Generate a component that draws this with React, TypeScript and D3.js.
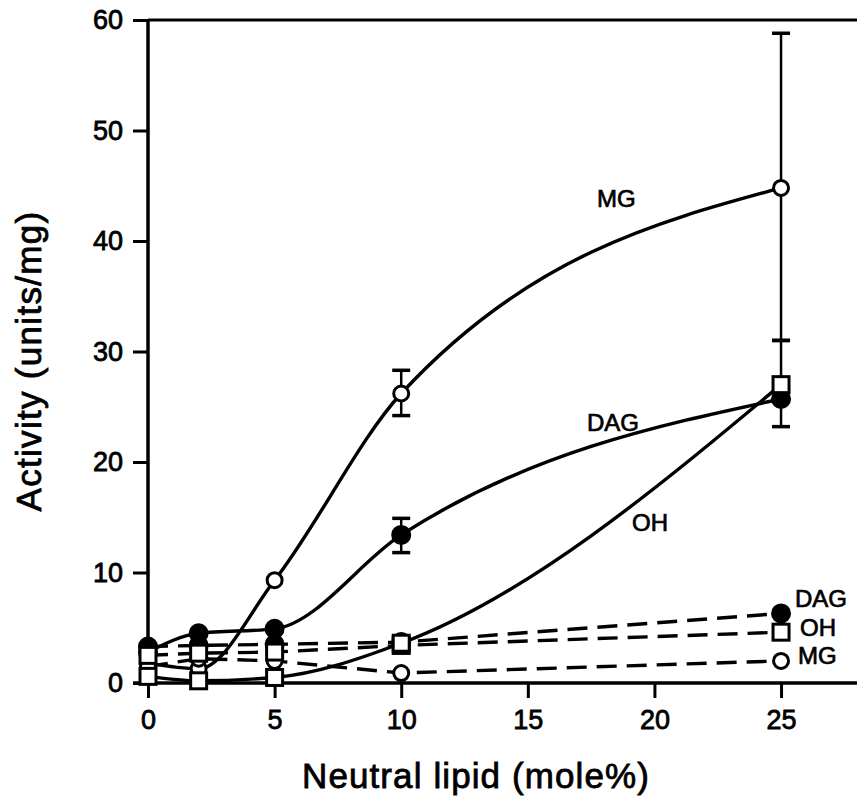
import React, { useEffect, useRef } from 'react'
import * as d3 from 'd3'

// mole% of neutral lipid
const lipid = [0, 2, 5, 10, 25]

// solid curves
const mgSolid = [1.8, 1.3, 9.3, 26.2, 44.8]
const dagSolid = [2.8, 4.5, 4.9, 13.4, 25.7]
const ohSolid = [0.6, 0.2, 0.5, 3.6, 27.0]

// dashed curves
const dagDashed = [3.3, 3.4, 3.5, 3.7, 6.3]
const ohDashed = [2.5, 2.7, 2.8, 3.4, 4.6]
const mgDashed = [1.5, 2.2, 2.0, 0.9, 2.0]

// error bars: [x, low, high]
const errorBars = [
  [10, 24.2, 28.3],
  [10, 11.8, 14.9],
  [25, 31.0, 58.8],
  [25, 23.2, 31.0],
]

const xTicks = [0, 5, 10, 15, 20, 25]
const yTicks = [0, 10, 20, 30, 40, 50, 60]

const W = 857, H = 799
const FONT = 'Liberation Sans, Arial, Helvetica, sans-serif'

export default function App() {
  const ref = useRef<SVGSVGElement>(null)

  useEffect(() => {
    const svg = d3.select(ref.current)
    svg.selectAll('*').remove()

    const x = d3.scaleLinear().domain([0, 28]).range([148, 857])
    const y = d3.scaleLinear().domain([0, 60]).range([683, 20])

    const g = svg.append('g')

    // frame
    g.append('line').attr('x1', x(0)).attr('x2', W).attr('y1', y(60)).attr('y2', y(60))
      .attr('stroke', '#000').attr('stroke-width', 3)

    // axes
    const xAxis = g.append('g').attr('transform', `translate(0, ${y(0)})`)
      .call(d3.axisBottom(x).tickValues(xTicks).tickSize(15).tickPadding(12).tickSizeOuter(0))
    const yAxis = g.append('g').attr('transform', `translate(${x(0)}, 0)`)
      .call(d3.axisLeft(y).tickValues(yTicks).tickSize(15).tickPadding(10).tickSizeOuter(0))

    ;[xAxis, yAxis].forEach(a => {
      a.select('.domain').attr('stroke-width', 3.5)
      a.selectAll('.tick line').attr('stroke-width', 3)
      a.selectAll('.tick text').attr('font-family', FONT).attr('font-size', 27)
        .attr('fill', '#000').attr('stroke', '#000').attr('stroke-width', 0.8)
    })
    xAxis.select('.domain').attr('d', `M${x(0) - 15},0H${W}`)
    yAxis.select('.domain').attr('d', `M0,${y(0)}V${y(60)}`)

    // axis titles
    g.append('text').attr('x', 476).attr('y', 788).attr('text-anchor', 'middle')
      .attr('font-family', FONT).attr('font-size', 35).attr('letter-spacing', 1.1)
      .attr('stroke', '#000').attr('stroke-width', 0.8)
      .text('Neutral lipid (mole%)')
    g.append('text').attr('transform', `translate(41, 361) rotate(-90)`).attr('text-anchor', 'middle')
      .attr('font-family', FONT).attr('font-size', 35).attr('letter-spacing', 1.3)
      .attr('stroke', '#000').attr('stroke-width', 0.8)
      .text('Activity (units/mg)')

    // error bars
    errorBars.forEach(([xv, lo, hi]) => {
      g.append('line').attr('x1', x(xv)).attr('x2', x(xv)).attr('y1', y(lo)).attr('y2', y(hi))
        .attr('stroke', '#000').attr('stroke-width', 2.5)
      ;[lo, hi].forEach(v => {
        g.append('line').attr('x1', x(xv) - 9).attr('x2', x(xv) + 9).attr('y1', y(v)).attr('y2', y(v))
          .attr('stroke', '#000').attr('stroke-width', 3.5)
      })
    })

    const solid = d3.line<number>().x((d, i) => x(lipid[i])).y(d => y(d)).curve(d3.curveMonotoneX)
    const dashed = d3.line<number>().x((d, i) => x(lipid[i])).y(d => y(d))

    const series = [
      { values: dagDashed, marker: 'filled', dash: '20,10' },
      { values: dagSolid, marker: 'filled', dash: null },
      { values: mgSolid, marker: 'open', dash: null },
      { values: mgDashed, marker: 'open', dash: '20,10' },
      { values: ohDashed, marker: 'square', dash: '20,10' },
      { values: ohSolid, marker: 'square', dash: null },
    ]

    series.forEach(s => {
      g.append('path').attr('d', (s.dash ? dashed : solid)(s.values))
        .attr('fill', 'none').attr('stroke', '#000').attr('stroke-width', 3.4)
        .attr('stroke-dasharray', s.dash)
    })

    series.forEach(s => {
      const m = g.append('g').selectAll('.m').data(s.values).join(s.marker === 'square' ? 'rect' : 'circle')
      if (s.marker === 'square') {
        m.attr('x', (d, i) => x(lipid[i]) - 8).attr('y', d => y(d) - 8).attr('width', 16).attr('height', 16)
          .attr('fill', '#fff').attr('stroke', '#000').attr('stroke-width', 3)
      } else {
        m.attr('cx', (d, i) => x(lipid[i])).attr('cy', d => y(d)).attr('r', s.marker === 'filled' ? 8.5 : 7.5)
          .attr('fill', s.marker === 'filled' ? '#000' : '#fff').attr('stroke', '#000').attr('stroke-width', 3)
      }
    })

    // curve labels
    const labels = [
      { t: 'MG', px: 597, py: 207 },
      { t: 'DAG', px: 587, py: 431 },
      { t: 'OH', px: 632, py: 531 },
      { t: 'DAG', px: 795, py: 607 },
      { t: 'OH', px: 800, py: 636 },
      { t: 'MG', px: 798, py: 664 },
    ]
    g.selectAll('.lbl').data(labels).join('text')
      .attr('x', d => d.px).attr('y', d => d.py)
      .attr('font-family', FONT).attr('font-size', 24).attr('stroke', '#000').attr('stroke-width', 0.7)
      .text(d => d.t)
  }, [])

  return (
    <svg ref={ref} width={W} height={H} style={{ position: 'absolute', left: 0, top: 0, background: '#fff' }} />
  )
}
